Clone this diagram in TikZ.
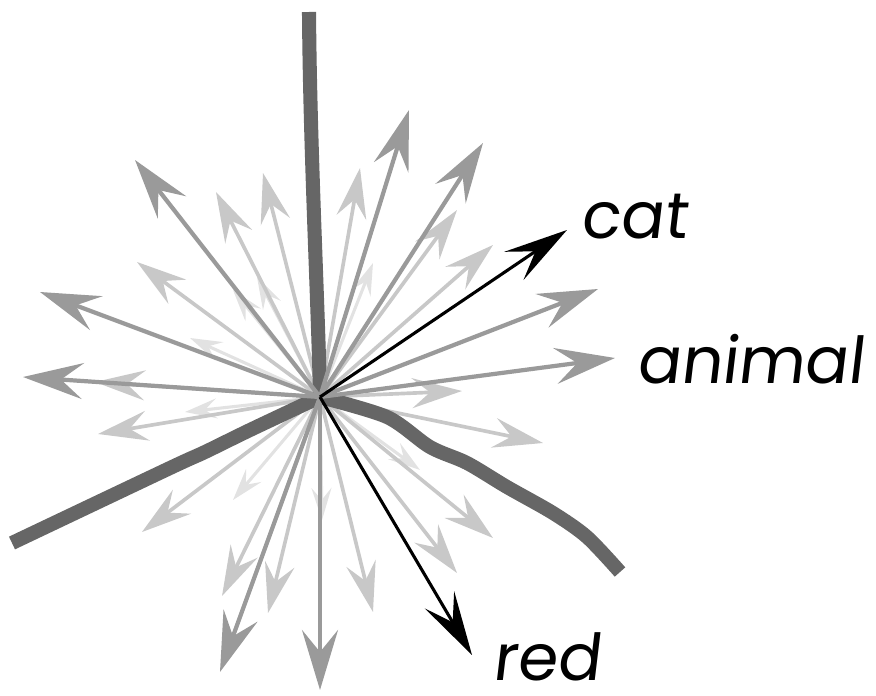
\documentclass[tikz,border=0pt]{standalone}
\usepackage{fontspec}
\newfontfamily\handfont[FakeSlant=0.12]{Poppins}
\usetikzlibrary{arrows.meta}

\definecolor{dimgray}{HTML}{666666}
\definecolor{vecmid}{HTML}{9A9A9A}
\definecolor{veclight}{HTML}{C8C8C8}
\definecolor{vecfaint}{HTML}{E2E2E2}

\tikzset{
	midvec/.style={vecmid, line width=3pt,
		-{Stealth[length=1.5cm, width=0.9cm, inset=0.55cm]}},
	lightvec/.style={veclight, line width=2.6pt,
		-{Stealth[length=1.25cm, width=0.75cm, inset=0.45cm]}},
	faintvec/.style={vecfaint, line width=2.2pt,
		-{Stealth[length=0.8cm, width=0.5cm, inset=0.3cm]}},
	wordvec/.style={black, line width=2.2pt,
		-{Stealth[length=1.6cm, width=0.85cm, inset=0.65cm]}},
	dimline/.style={dimgray, line width=10pt, line join=round},
	wordlabel/.style={font=\handfont\fontsize{46}{46}\selectfont,
		anchor=base west, inner sep=0pt}
}

\begin{document}
\begin{tikzpicture}[x=0.025cm, y=-0.025cm]
	\useasboundingbox (0,0) rectangle (876,696);
	\coordinate (o) at (320,397);
	
	% 很淡的短向量
	\foreach \x/\y [count=\i] in {257/277, 233/290, 190/338, 185/412,
		233/500, 322/520, 420/470, 373/263}
	{
		\coordinate (f\i) at (\x,\y);
		\draw[faintvec] (o) -- (f\i);
	}
	
	% 浅灰向量
	\foreach \x/\y [count=\i] in {216/192, 263/173, 360/168, 457/210,
		493/245, 137/262, 95/382, 98/434, 142/532, 222/596, 268/613,
		373/612, 457/573, 493/538, 543/443, 462/391}
	{
		\coordinate (l\i) at (\x,\y);
		\draw[lightvec] (o) -- (l\i);
	}
	
	% 三条粗轴
	\draw[dimline] (o) .. controls (318,300) and (310,150) .. (309,12);
	\draw[dimline, smooth] plot coordinates {(320,397) (250,430) (205,452)
		(170,468) (12,543)};
	\draw[dimline, smooth] plot coordinates {(320,397) (387,417) (430,447)
		(467,463) (507,487) (553,513) (587,537) (620,572)};
	
	% 中灰向量
	\foreach \x/\y [count=\i] in {135/160, 409/110, 483/143, 598/289,
		40/292, 23/377, 220/672, 320/690}
	{
		\coordinate (m\i) at (\x,\y);
		\draw[midvec] (o) -- (m\i);
	}
	\coordinate (animaltip) at (615,358);
	\draw[midvec] (o) -- (animaltip);
	
	% 黑色向量和词
	\coordinate (cattip) at (567,230);
	\coordinate (redtip) at (472,655);
	\draw[wordvec] (o) -- (cattip);
	\draw[wordvec] (o) -- (redtip);
	
	\node[wordlabel] (cat) at (580,238) {cat};
	\node[wordlabel] (animal) at (636,383) {animal};
	\node[wordlabel] (red) at (492,680) {red};
\end{tikzpicture}
\end{document}
